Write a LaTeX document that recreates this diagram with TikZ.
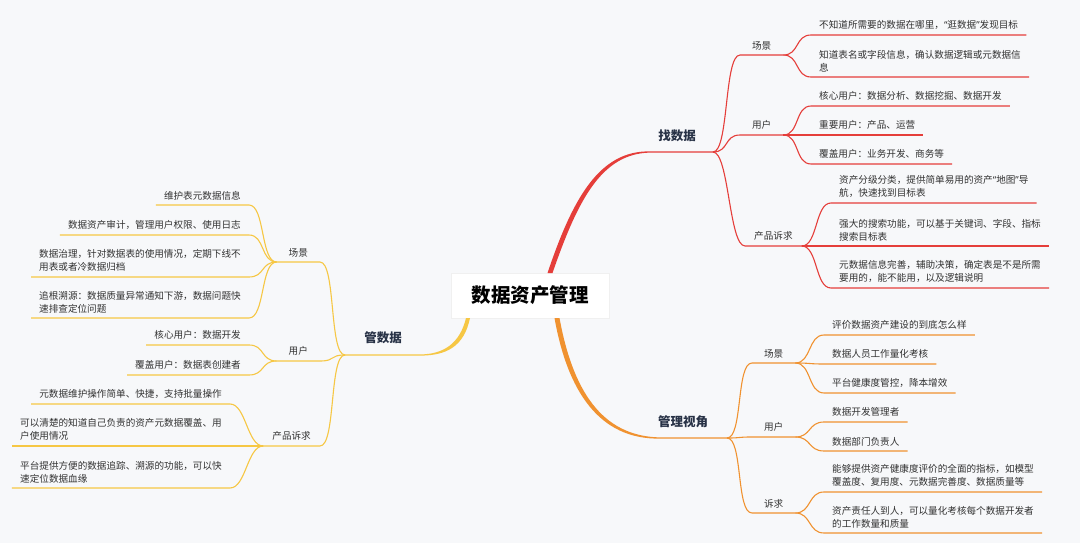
\documentclass[tikz,border=0pt]{standalone}
\usepackage{fontspec}
\setmainfont{Noto Sans CJK SC}
\newfontfamily\quotefont{Noto Sans}
\usepackage{tikz}
\usetikzlibrary{positioning}

\definecolor{zred}{RGB}{229,62,58}
\definecolor{gorange}{RGB}{240,146,48}
\definecolor{yyellow}{RGB}{246,199,68}
\definecolor{navy}{RGB}{40,50,70}
\definecolor{txtgray}{RGB}{50,50,50}
\definecolor{bgcol}{RGB}{247,248,250}

\newcommand\qopen{{\quotefont “}}
\newcommand\qclose{{\quotefont ”}}

\begin{document}
\begin{tikzpicture}[x=1pt,y=-1pt,
  every node/.style={font=\fontsize{9.6}{13}\selectfont, text=txtgray},
  leaf/.style={inner xsep=8pt, inner ysep=5pt, align=left},
  sub/.style={inner xsep=9pt, inner ysep=5pt, minimum width=43pt},
  branch/.style={font=\fontsize{12.5}{15}\selectfont\bfseries, text=navy},
  title node/.style={fill=white, draw=black!6, minimum width=158pt, minimum height=45pt,
    font=\fontsize{19.5}{22}\selectfont\bfseries, text=black},
  twigR/.style={to path={.. controls +(16,0) and +(-16,0) .. (\tikztotarget)}},
  twigL/.style={to path={.. controls +(-16,0) and +(16,0) .. (\tikztotarget)}},
  zline/.style={draw=zred, line width=1.1pt},
  gline/.style={draw=gorange, line width=1.1pt},
  yline/.style={draw=yyellow, line width=1.1pt}]

  \fill[bgcol] (0,0) rectangle (1080,543);
  \useasboundingbox (0,0) rectangle (1080,543);

  \node[title node] (title) at (530,295.5) {数据资产管理};

  % main branches
  \coordinate (zfork) at (713,152);
  \coordinate (gfork) at (727,438);
  \coordinate (yfork) at (345,355);
  \fill[zred] (547.5,273) .. controls (572.5,199) and (599,150.4) .. (650,151.4) -- (713,151.4)
    -- (713,152.6) -- (650,152.6) .. controls (601,153.6) and (577.5,201) .. (552.5,273) -- cycle;
  \fill[gorange] (554.5,318) .. controls (567.5,391) and (599,439.6) .. (660,438.6) -- (727,438.6)
    -- (727,437.4) -- (660,437.4) .. controls (601,436.4) and (572.5,389) .. (559.5,318) -- cycle;
  \fill[yyellow] (470,318) .. controls (464,347) and (446,355.6) .. (420,355.6) -- (345,355.6)
    -- (345,354.4) -- (420,354.4) .. controls (444,354.4) and (460,343) .. (466,318) -- cycle;

  \node[branch, anchor=base] (zl) at (677,140) {找数据};
  \node[branch, anchor=base] (gl) at (683,426) {管理视角};
  \node[branch, anchor=base] (yl) at (383,342) {管数据};

  % 找数据
  \node[sub, anchor=south west] (zjS) at (740,55) {场景};
  \node[sub, anchor=south west] (zjU) at (740,135) {用户};
  \node[sub, anchor=south west] (zjP) at (745,246) {产品诉求};
  \node[leaf, anchor=south west] (zs1) at (811,35) {不知道所需要的数据在哪里，\qopen 逛数据\qclose 发现目标};
  \node[leaf, anchor=south west] (zs2) at (811,77) {知道表名或字段信息，确认数据逻辑或元数据信\\息};
  \node[leaf, anchor=south west] (zu1) at (811,106) {核心用户：数据分析、数据挖掘、数据开发};
  \node[leaf, anchor=south west] (zu2) at (811,135) {重要用户：产品、运营};
  \node[leaf, anchor=south west] (zu3) at (811,164) {覆盖用户：业务开发、商务等};
  \node[leaf, anchor=south west] (zp1) at (831,203) {资产分级分类，提供简单易用的资产\qopen 地图\qclose 导\\航，快速找到目标表};
  \node[leaf, anchor=south west] (zp2) at (831,246) {强大的搜索功能，可以基于关键词、字段、指标\\搜索目标表};
  \node[leaf, anchor=south west] (zp3) at (831,288) {元数据信息完善，辅助决策，确定表是不是所需\\要用的，能不能用，以及逻辑说明};

  \draw[zline] (zfork) to[twigR] (zjS.south west) -- (zjS.south east);
  \draw[zline] (zfork) to[twigR] (zjU.south west) -- (zjU.south east);
  \draw[zline] (zfork) to[twigR] (zjP.south west) -- (zjP.south east);
  \draw[zline] (zjS.south east) to[twigR] (zs1.south west) -- (zs1.south east);
  \draw[zline] (zjS.south east) to[twigR] (zs2.south west) -- (zs2.south east);
  \draw[zline] (zjU.south east) to[twigR] (zu1.south west) -- (zu1.south east);
  \draw[zline] (zjU.south east) to[twigR] (zu2.south west) -- (zu2.south east);
  \draw[zline] (zjU.south east) to[twigR] (zu3.south west) -- (zu3.south east);
  \draw[zline] (zjP.south east) to[twigR] (zp1.south west) -- (zp1.south east);
  \draw[zline] (zjP.south east) to[twigR] (zp2.south west) -- (zp2.south east);
  \draw[zline] (zjP.south east) to[twigR] (zp3.south west) -- (zp3.south east);

  % 管理视角
  \node[sub, anchor=south west] (gjS) at (752,363) {场景};
  \node[sub, anchor=south west] (gjU) at (752,437) {用户};
  \node[sub, anchor=south west] (gjD) at (752,513) {诉求};
  \node[leaf, anchor=south west] (gs1) at (824,335) {评价数据资产建设的到底怎么样};
  \node[leaf, anchor=south west] (gs2) at (824,364) {数据人员工作量化考核};
  \node[leaf, anchor=south west] (gs3) at (824,393) {平台健康度管控，降本增效};
  \node[leaf, anchor=south west] (gu1) at (824,422) {数据开发管理者};
  \node[leaf, anchor=south west] (gu2) at (824,451) {数据部门负责人};
  \node[leaf, anchor=south west] (gd1) at (824,492) {能够提供资产健康度评价的全面的指标，如模型\\覆盖度、复用度、元数据完善度、数据质量等};
  \node[leaf, anchor=south west] (gd2) at (824,533) {资产责任人到人，可以量化考核每个数据开发者\\的工作数量和质量};

  \draw[gline] (gfork) to[twigR] (gjS.south west) -- (gjS.south east);
  \draw[gline] (gfork) to[twigR] (gjU.south west) -- (gjU.south east);
  \draw[gline] (gfork) to[twigR] (gjD.south west) -- (gjD.south east);
  \draw[gline] (gjS.south east) to[twigR] (gs1.south west) -- (gs1.south east);
  \draw[gline] (gjS.south east) to[twigR] (gs2.south west) -- (gs2.south east);
  \draw[gline] (gjS.south east) to[twigR] (gs3.south west) -- (gs3.south east);
  \draw[gline] (gjU.south east) to[twigR] (gu1.south west) -- (gu1.south east);
  \draw[gline] (gjU.south east) to[twigR] (gu2.south west) -- (gu2.south east);
  \draw[gline] (gjD.south east) to[twigR] (gd1.south west) -- (gd1.south east);
  \draw[gline] (gjD.south east) to[twigR] (gd2.south west) -- (gd2.south east);

  % 管数据
  \node[sub, anchor=south east] (yjS) at (320,262) {场景};
  \node[sub, anchor=south east] (yjU) at (320,361) {用户};
  \node[sub, anchor=south east] (yjP) at (320,446) {产品诉求};
  \node[leaf, anchor=south east] (ys1) at (249,205) {维护表元数据信息};
  \node[leaf, anchor=south east] (ys2) at (249,235) {数据资产审计，管理用户权限、使用日志};
  \node[leaf, anchor=south east] (ys3) at (249,277) {数据治理，针对数据表的使用情况，定期下线不\\用表或者冷数据归档};
  \node[leaf, anchor=south east] (ys4) at (249,318) {追根溯源：数据质量异常通知下游，数据问题快\\速排查定位问题};
  \node[leaf, anchor=south east] (yu1) at (249,345) {核心用户：数据开发};
  \node[leaf, anchor=south east] (yu2) at (249,375) {覆盖用户：数据表创建者};
  \node[leaf, anchor=south east] (yp1) at (230,404) {元数据维护操作简单、快捷，支持批量操作};
  \node[leaf, anchor=south east] (yp2) at (230,446) {可以清楚的知道自己负责的资产元数据覆盖、用\\户使用情况};
  \node[leaf, anchor=south east] (yp3) at (230,488) {平台提供方便的数据追踪、溯源的功能，可以快\\速定位数据血缘};

  \draw[yline] (yfork) to[twigL] (yjS.south east) -- (yjS.south west);
  \draw[yline] (yfork) to[twigL] (yjU.south east) -- (yjU.south west);
  \draw[yline] (yfork) to[twigL] (yjP.south east) -- (yjP.south west);
  \draw[yline] (yjS.south west) to[twigL] (ys1.south east) -- (ys1.south west);
  \draw[yline] (yjS.south west) to[twigL] (ys2.south east) -- (ys2.south west);
  \draw[yline] (yjS.south west) to[twigL] (ys3.south east) -- (ys3.south west);
  \draw[yline] (yjS.south west) to[twigL] (ys4.south east) -- (ys4.south west);
  \draw[yline] (yjU.south west) to[twigL] (yu1.south east) -- (yu1.south west);
  \draw[yline] (yjU.south west) to[twigL] (yu2.south east) -- (yu2.south west);
  \draw[yline] (yjP.south west) to[twigL] (yp1.south east) -- (yp1.south west);
  \draw[yline] (yjP.south west) to[twigL] (yp2.south east) -- (yp2.south west);
  \draw[yline] (yjP.south west) to[twigL] (yp3.south east) -- (yp3.south west);
\end{tikzpicture}
\end{document}
